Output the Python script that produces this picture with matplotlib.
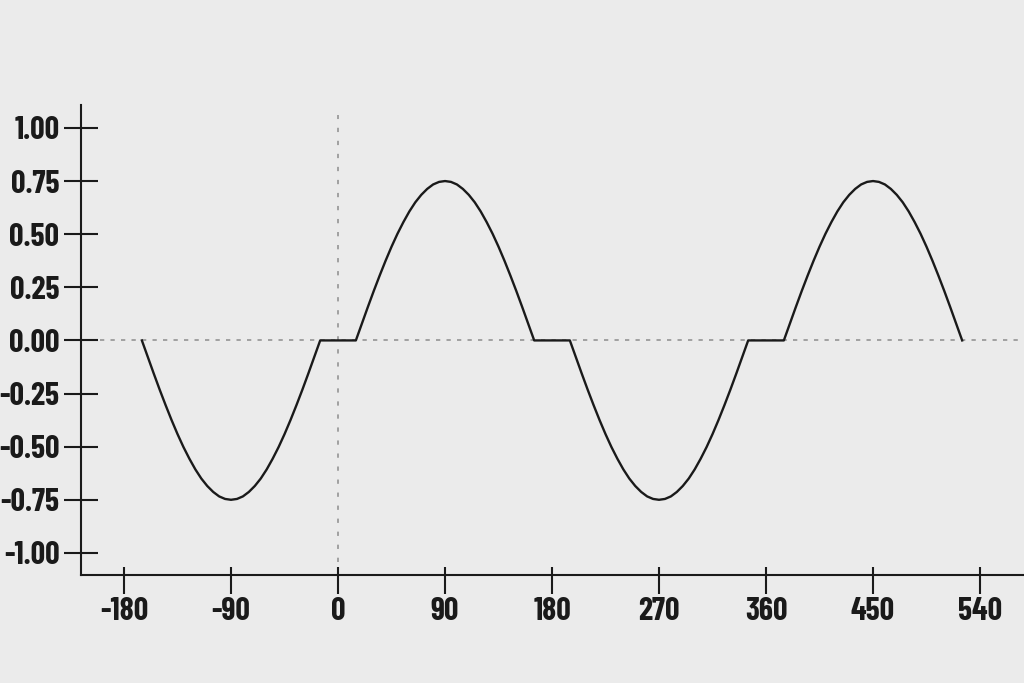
import matplotlib
matplotlib.use('Agg')
import matplotlib.pyplot as plt
import numpy as np

# -------------------------- data --------------------------
# angle samples (degrees) along the drawn curve, every 5 degrees
angles = np.arange(-165, 525.1, 5)

# output, one value per sample
neg_lobe_1 = [0, -0.078, -0.156, -0.232, -0.305, -0.375, -0.441, -0.502, -0.557, -0.607,
              -0.650, -0.685, -0.713, -0.734, -0.746, -0.750, -0.746, -0.734, -0.713, -0.685,
              -0.650, -0.607, -0.557, -0.502, -0.441, -0.375, -0.305, -0.232, -0.156, -0.078, 0]
dead_1 = [0, 0, 0, 0, 0]
pos_lobe_1 = [0, 0.078, 0.156, 0.232, 0.305, 0.375, 0.441, 0.502, 0.557, 0.607,
              0.650, 0.685, 0.713, 0.734, 0.746, 0.750, 0.746, 0.734, 0.713, 0.685,
              0.650, 0.607, 0.557, 0.502, 0.441, 0.375, 0.305, 0.232, 0.156, 0.078, 0]
dead_2 = [0, 0, 0, 0, 0]
neg_lobe_2 = [0, -0.078, -0.156, -0.232, -0.305, -0.375, -0.441, -0.502, -0.557, -0.607,
              -0.650, -0.685, -0.713, -0.734, -0.746, -0.750, -0.746, -0.734, -0.713, -0.685,
              -0.650, -0.607, -0.557, -0.502, -0.441, -0.375, -0.305, -0.232, -0.156, -0.078, 0]
dead_3 = [0, 0, 0, 0, 0]
pos_lobe_2 = [0, 0.078, 0.156, 0.232, 0.305, 0.375, 0.441, 0.502, 0.557, 0.607,
              0.650, 0.685, 0.713, 0.734, 0.746, 0.750, 0.746, 0.734, 0.713, 0.685,
              0.650, 0.607, 0.557, 0.502, 0.441, 0.375, 0.305, 0.232, 0.156, 0.078, 0]

values = neg_lobe_1 + dead_1 + pos_lobe_1 + dead_2 + neg_lobe_2 + dead_3 + pos_lobe_2

x_ticks = [-180, -90, 0, 90, 180, 270, 360, 450, 540]
x_labels = ['-180', '-90', '0', '90', '180', '270', '360', '450', '540']
y_ticks = [1.0, 0.75, 0.5, 0.25, 0.0, -0.25, -0.5, -0.75, -1.0]
y_labels = ['1.00', '0.75', '0.50', '0.25', '0.00', '-0.25', '-0.50', '-0.75', '-1.00']

# -------------------------- style --------------------------
plt.rcParams['font.family'] = ['Barlow Condensed', 'DejaVu Sans']
plt.rcParams['axes.unicode_minus'] = False
bg = '#ebebeb'
ink = '#1a1a1a'
guide = '#a0a0a0'

fig = plt.figure(figsize=(10.24, 6.83), dpi=100, facecolor=bg)
ax = fig.add_axes([0.0791, 0.1581, 0.9209, 0.6882])
ax.set_facecolor(bg)

# reference lines through zero
ax.plot([-200, 577], [0, 0], color=guide, lw=1.4, ls=(0, (2.2, 3.2)), zorder=1)
ax.plot([0, 0], [-1.104, 1.06], color=guide, lw=1.4, ls=(0, (2.2, 4.5)), zorder=1)

# curve
ax.plot(angles, values, color=ink, lw=1.7, zorder=3, solid_joinstyle='round')

ax.set_xlim(-216.2, 577)
ax.set_ylim(-1.104, 1.108)

for s in ['top', 'right']:
    ax.spines[s].set_visible(False)
for s in ['left', 'bottom']:
    ax.spines[s].set_linewidth(1.5)
    ax.spines[s].set_color(ink)

ax.set_xticks(x_ticks)
ax.set_xticklabels(x_labels)
ax.set_yticks(y_ticks)
ax.set_yticklabels(y_labels)

# short upward stub on the x ticks
ax.xaxis.remove_overlapping_locs = False
ax.set_xticks(x_ticks, minor=True)
ax.tick_params(axis='x', which='minor', direction='in', length=5.8, width=1.5, color=ink)
ax.tick_params(axis='x', which='major', direction='out', length=13.7, width=1.5,
               color=ink, pad=2, labelsize=23, labelcolor=ink)
ax.tick_params(axis='y', which='major', direction='inout', length=23.8, width=1.5,
               color=ink, pad=3.6, labelsize=23, labelcolor=ink)
for lab in ax.get_xticklabels() + ax.get_yticklabels():
    lab.set_fontweight('bold')

fig.savefig('out.png', dpi=100, facecolor=bg)
